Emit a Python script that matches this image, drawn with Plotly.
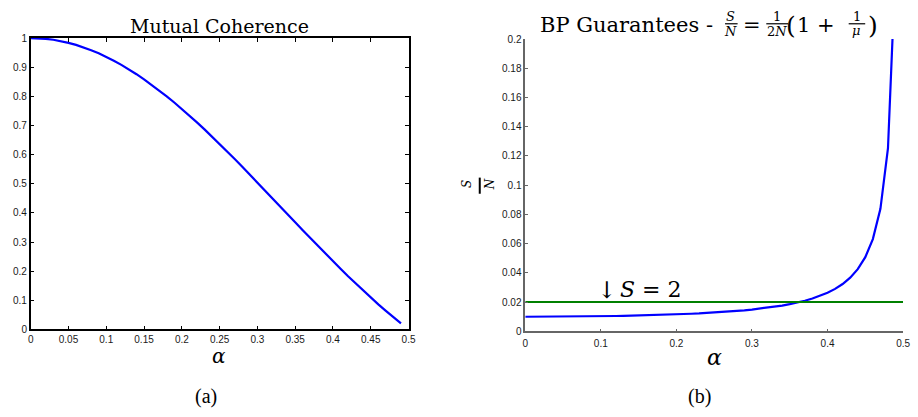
import plotly.graph_objects as go

# ---------------- data ----------------
alpha = [0.00, 0.01, 0.02, 0.03, 0.04, 0.05, 0.06, 0.07, 0.08, 0.09,
         0.10, 0.11, 0.12, 0.13, 0.14, 0.15, 0.16, 0.17, 0.18, 0.19,
         0.20, 0.21, 0.22, 0.23, 0.24, 0.25, 0.26, 0.27, 0.28, 0.29,
         0.30, 0.31, 0.32, 0.33, 0.34, 0.35, 0.36, 0.37, 0.38, 0.39,
         0.40, 0.41, 0.42, 0.43, 0.44, 0.45, 0.46, 0.47, 0.48, 0.49]

mutual_coherence = [1.0000, 0.9993, 0.9974, 0.9941, 0.9895, 0.9836, 0.9765, 0.9681, 0.9584, 0.9476,
                    0.9355, 0.9223, 0.9079, 0.8925, 0.8759, 0.8584, 0.8399, 0.8204, 0.8001, 0.7788,
                    0.7568, 0.7341, 0.7106, 0.6865, 0.6618, 0.6366, 0.6109, 0.5848, 0.5583, 0.5316,
                    0.5046, 0.4774, 0.4500, 0.4226, 0.3952, 0.3679, 0.3406, 0.3136, 0.2867, 0.2601,
                    0.2339, 0.2080, 0.1826, 0.1576, 0.1332, 0.1093, 0.0860, 0.0635, 0.0416, 0.0204]

bp_guarantee = [0.01000, 0.01000, 0.01001, 0.01003, 0.01005, 0.01008, 0.01012, 0.01017, 0.01022, 0.01028,
                0.01035, 0.01042, 0.01051, 0.01060, 0.01071, 0.01083, 0.01095, 0.01110, 0.01125, 0.01142,
                0.01161, 0.01181, 0.01204, 0.01228, 0.01256, 0.01285, 0.01318, 0.01355, 0.01396, 0.01441,
                0.01491, 0.01548, 0.01611, 0.01683, 0.01765, 0.01859, 0.01968, 0.02095, 0.02244, 0.02422,
                0.02638, 0.02904, 0.03239, 0.03673, 0.04255, 0.05075, 0.06311, 0.08380, 0.12531, 0.25022]

s2_alpha = [0.0, 0.5]
s2_level = [0.02, 0.02]

a_xtickvals = [0, 0.05, 0.1, 0.15, 0.2, 0.25, 0.3, 0.35, 0.4, 0.45, 0.5]
a_xticktext = ["0", "0.05", "0.1", "0.15", "0.2", "0.25", "0.3", "0.35", "0.4", "0.45", "0.5"]
a_ytickvals = [0, 0.1, 0.2, 0.3, 0.4, 0.5, 0.6, 0.7, 0.8, 0.9, 1]
a_yticktext = ["0", "0.1", "0.2", "0.3", "0.4", "0.5", "0.6", "0.7", "0.8", "0.9", "1"]
b_xtickvals = [0, 0.1, 0.2, 0.3, 0.4, 0.5]
b_xticktext = ["0", "0.1", "0.2", "0.3", "0.4", "0.5"]
b_ytickvals = [0, 0.02, 0.04, 0.06, 0.08, 0.1, 0.12, 0.14, 0.16, 0.18, 0.2]
b_yticktext = ["0", "0.02", "0.04", "0.06", "0.08", "0.1", "0.12", "0.14", "0.16", "0.18", "0.2"]

# ---------------- layout helpers ----------------
W, H = 918, 417


def px(x):
    return x / W


def py(y):
    return 1 - y / H


SERIF = "DejaVu Serif"
SANS = "Liberation Sans"
TICKFONT = dict(family=SANS, size=10, color="#1a1a1a")

fig = go.Figure()
fig.add_trace(go.Scatter(x=alpha, y=mutual_coherence, mode="lines", xaxis="x", yaxis="y",
                         line=dict(color="#0000ff", width=2.2), showlegend=False, hoverinfo="skip"))
fig.add_trace(go.Scatter(x=alpha, y=bp_guarantee, mode="lines", xaxis="x2", yaxis="y2",
                         line=dict(color="#0000ff", width=2.2), showlegend=False, hoverinfo="skip"))
fig.add_trace(go.Scatter(x=s2_alpha, y=s2_level, mode="lines", xaxis="x2", yaxis="y2",
                         line=dict(color="#008000", width=2), showlegend=False, hoverinfo="skip"))

ax_a = dict(showline=True, linecolor="black", linewidth=1.5, mirror="ticks", ticks="inside",
            ticklen=4, tickcolor="black", tickwidth=1, showgrid=False, zeroline=False,
            tickfont=TICKFONT, fixedrange=True)
ax_b = dict(showline=True, linecolor="#666666", linewidth=1.5, mirror=False, ticks="inside",
            ticklen=3, tickcolor="#666666", tickwidth=1, showgrid=False, zeroline=False,
            tickfont=TICKFONT, fixedrange=True)

fig.update_layout(
    width=W, height=H, margin=dict(l=0, r=0, t=0, b=0),
    paper_bgcolor="white", plot_bgcolor="white",
    xaxis=dict(ax_a, domain=[px(28), px(410)], range=[0, 0.5], anchor="y",
               tickvals=a_xtickvals, ticktext=a_xticktext),
    yaxis=dict(ax_a, domain=[py(333), py(33)], range=[0, 1], anchor="x",
               tickvals=a_ytickvals, ticktext=a_yticktext),
    xaxis2=dict(ax_b, domain=[px(528), px(910)], range=[0, 0.5], anchor="y2",
                tickvals=b_xtickvals, ticktext=b_xticktext, ticklabelstandoff=2),
    yaxis2=dict(ax_b, domain=[py(335), py(34)], range=[0, 0.2], anchor="x2",
                tickvals=b_ytickvals, ticktext=b_yticktext),
)

annotations = []
shapes = []


def txt(text, x, y, size, xanchor="center", family=SERIF, angle=0, color="black"):
    annotations.append(dict(text=text, x=px(x), y=py(y), xref="paper", yref="paper",
                            xanchor=xanchor, yanchor="middle", showarrow=False,
                            textangle=angle, font=dict(family=family, size=size, color=color)))


def bar(x0, x1, y0, y1, width=1.2):
    shapes.append(dict(type="line", xref="paper", yref="paper", x0=px(x0), x1=px(x1),
                       y0=py(y0), y1=py(y1), line=dict(color="black", width=width)))


# Panel (a) texts
txt("Mutual Coherence", 219, 20.1, 19)
txt("<i>α</i>", 218.4, 360, 20)
txt("(a)", 205.5, 402, 20, family="Liberation Serif")

# Panel (b) title built from pieces
txt("BP Guarantees -", 541, 19.4, 21, xanchor="left")
txt("<i>S</i>", 736, 11.2, 13)
bar(730, 742.7, 18.3, 18.3)
txt("<i>N</i>", 736, 26, 13)
txt("=", 757, 19.4, 21)
txt("1", 782.5, 11.2, 13)
bar(771.7, 794, 18.3, 18.3)
txt("2<i>N</i>", 783, 26, 13)
txt("(", 797, 20, 25)
txt("1", 809, 19.4, 21)
txt("+", 832.5, 19.4, 21)
txt("1", 863, 10.6, 13)
bar(855, 871.7, 18.3, 18.3)
txt("<i>μ</i>", 862.5, 25, 13)
txt(")", 880, 20, 25)

# Panel (b) y label S/N (rotated fraction)
txt("<i>S</i>", 469, 183.3, 12, angle=-90)
txt("<i>N</i>", 492.5, 183.5, 12, angle=-90)
bar(482, 482, 176.7, 193.3, width=2)

# Panel (b) other texts
txt("<i>α</i>", 719.2, 362, 22)
txt("(b)", 704.5, 402, 20, family="Liberation Serif")
txt("↓", 610, 292.5, 23)
txt("<i>S</i> = 2", 622, 292, 22, xanchor="left")

fig.update_layout(annotations=annotations, shapes=shapes)

fig.write_html("out.html", config={"displayModeBar": False})
